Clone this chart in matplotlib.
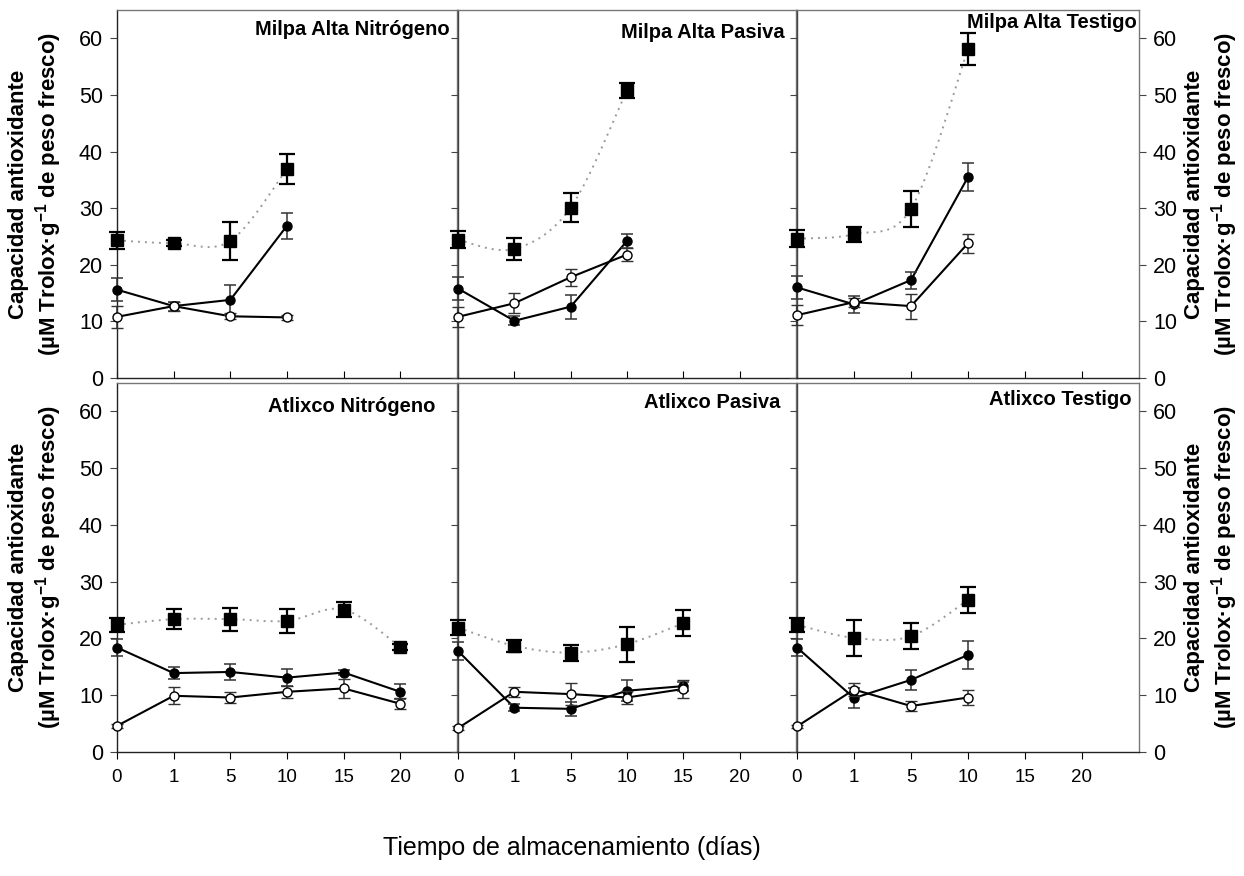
import numpy as np
import matplotlib
matplotlib.use('Agg')
import matplotlib.pyplot as plt
from matplotlib.path import Path
from matplotlib.patches import PathPatch

plt.rcParams['font.family'] = ['Liberation Sans', 'DejaVu Sans']
plt.rcParams['mathtext.fontset'] = 'custom'
plt.rcParams['mathtext.rm'] = 'Liberation Sans:bold'
plt.rcParams['mathtext.bf'] = 'Liberation Sans:bold'
plt.rcParams['mathtext.default'] = 'bf'

# ---------------- datos ----------------
dias = ['0', '1', '5', '10', '15', '20']

titulos = ['Milpa Alta Nitrógeno', 'Milpa Alta Pasiva', 'Milpa Alta Testigo',
           'Atlixco Nitrógeno', 'Atlixco Pasiva', 'Atlixco Testigo']

# cuadrados (serie punteada)
ma_n_sq = [24.3, 23.8, 24.2, 36.9]
ma_n_sq_err = [1.5, 0.5, 3.3, 2.7]
ma_p_sq = [24.4, 22.8, 30.1, 50.8]
ma_p_sq_err = [1.5, 2.0, 2.6, 1.3]
ma_t_sq = [24.6, 25.4, 29.9, 58.1]
ma_t_sq_err = [1.5, 1.3, 3.2, 2.8]
at_n_sq = [22.4, 23.4, 23.4, 23.1, 25.1, 18.5]
at_n_sq_err = [1.2, 1.8, 2.0, 2.1, 1.4, 0.5]
at_p_sq = [21.9, 18.7, 17.5, 19.0, 22.7]
at_p_sq_err = [1.3, 1.0, 1.4, 3.1, 2.3]
at_t_sq = [22.4, 20.1, 20.4, 26.8]
at_t_sq_err = [1.2, 3.2, 2.3, 2.3]

# circulos rellenos
ma_n_fc = [15.6, 12.7, 13.8, 26.9]
ma_n_fc_err = [2.0, 0.8, 2.6, 2.3]
ma_p_fc = [15.8, 10.1, 12.6, 24.2]
ma_p_fc_err = [2.0, 0.8, 2.1, 1.2]
ma_t_fc = [16.0, 13.0, 17.3, 35.5]
ma_t_fc_err = [2.0, 1.5, 1.5, 2.5]
at_n_fc = [18.4, 13.9, 14.1, 13.1, 14.0, 10.6]
at_n_fc_err = [1.5, 1.1, 1.4, 1.5, 0.5, 1.3]
at_p_fc = [17.8, 7.8, 7.6, 10.8, 11.6]
at_p_fc_err = [1.6, 0.6, 1.2, 1.8, 0.8]
at_t_fc = [18.4, 9.5, 12.7, 17.1]
at_t_fc_err = [1.5, 1.8, 1.8, 2.4]

# circulos abiertos
ma_n_oc = [10.8, 12.7, 10.9, 10.7]
ma_n_oc_err = [2.0, 0.8, 0.5, 0.5]
ma_p_oc = [10.8, 13.2, 17.8, 21.8]
ma_p_oc_err = [1.8, 1.8, 1.5, 1.2]
ma_t_oc = [11.1, 13.4, 12.7, 23.8]
ma_t_oc_err = [1.8, 0.8, 2.2, 1.7]
at_n_oc = [4.6, 9.9, 9.6, 10.6, 11.2, 8.5]
at_n_oc_err = [0.3, 1.5, 0.9, 1.0, 1.7, 1.0]
at_p_oc = [4.2, 10.6, 10.2, 9.6, 11.1]
at_p_oc_err = [0.3, 0.9, 2.0, 1.2, 1.5]
at_t_oc = [4.5, 11.0, 8.1, 9.6]
at_t_oc_err = [0.3, 1.2, 0.9, 1.4]

cuadrados = [(ma_n_sq, ma_n_sq_err), (ma_p_sq, ma_p_sq_err), (ma_t_sq, ma_t_sq_err),
             (at_n_sq, at_n_sq_err), (at_p_sq, at_p_sq_err), (at_t_sq, at_t_sq_err)]
rellenos = [(ma_n_fc, ma_n_fc_err), (ma_p_fc, ma_p_fc_err), (ma_t_fc, ma_t_fc_err),
            (at_n_fc, at_n_fc_err), (at_p_fc, at_p_fc_err), (at_t_fc, at_t_fc_err)]
abiertos = [(ma_n_oc, ma_n_oc_err), (ma_p_oc, ma_p_oc_err), (ma_t_oc, ma_t_oc_err),
            (at_n_oc, at_n_oc_err), (at_p_oc, at_p_oc_err), (at_t_oc, at_t_oc_err)]

# ---------------- disposición (pixeles de la figura) ----------------
W, H = 1244, 876
cols = [(117, 457), (458, 796), (797, 1139)]
filas = [(10, 378), (383, 752)]
pos_titulo = [(0.979, 0.946), (0.967, 0.940), (0.994, 0.965),
              (0.935, 0.935), (0.953, 0.946), (0.977, 0.954)]


def curva_suave(ax, x, y, **kw):
    """Dibuja una curva suave (Catmull-Rom como Bezier) por los puntos."""
    pts = np.column_stack([x, y]).astype(float)
    verts = [pts[0]]
    codes = [Path.MOVETO]
    n = len(pts)
    for i in range(n - 1):
        p0 = pts[i - 1] if i > 0 else pts[i]
        p1 = pts[i]
        p2 = pts[i + 1]
        p3 = pts[i + 2] if i + 2 < n else pts[i + 1]
        c1 = p1 + (p2 - p0) / 6.0
        c2 = p2 - (p3 - p1) / 6.0
        verts += [c1, c2, p2]
        codes += [Path.CURVE4] * 3
    ax.add_patch(PathPatch(Path(verts, codes), fill=False, **kw))


fig = plt.figure(figsize=(W / 100, H / 100), dpi=100)
ylabel = 'Capacidad antioxidante\n(µM Trolox·g$^{-1}$ de peso fresco)'

for k in range(6):
    r, c = divmod(k, 3)
    x0, x1 = cols[c]
    y0, y1 = filas[r]
    ax = fig.add_axes([x0 / W, 1 - y1 / H, (x1 - x0) / W, (y1 - y0) / H])
    ax.set_xlim(0, 6)
    ax.set_ylim(0, 65)

    sq, sq_e = cuadrados[k]
    fc, fc_e = rellenos[k]
    oc, oc_e = abiertos[k]
    xs = np.arange(len(sq))

    curva_suave(ax, xs, sq, edgecolor='#9a9a9a', linestyle=(0, (1, 2.6)),
                linewidth=1.4, zorder=2, clip_on=False)
    ax.plot(np.arange(len(fc)), fc, color='black', lw=1.5, zorder=3, clip_on=False)
    ax.plot(np.arange(len(oc)), oc, color='black', lw=1.5, zorder=3, clip_on=False)

    ax.errorbar(np.arange(len(fc)), fc, yerr=fc_e, fmt='o', ms=6.5,
                mfc='black', mec='black', ecolor='#333333', elinewidth=1.1,
                capsize=4, capthick=1.1, zorder=4, clip_on=False)
    ax.errorbar(np.arange(len(oc)), oc, yerr=oc_e, fmt='o', ms=6.5,
                mfc='white', mec='black', mew=1.0, ecolor='#333333',
                elinewidth=1.1, capsize=4, capthick=1.1, zorder=5, clip_on=False)
    ax.errorbar(xs, sq, yerr=sq_e, fmt='s', ms=8, mfc='black', mec='black',
                ecolor='black', elinewidth=1.6, capsize=6, capthick=1.6,
                zorder=6, clip_on=False)

    ax.text(pos_titulo[k][0], pos_titulo[k][1], titulos[k], transform=ax.transAxes,
            ha='right', va='center', fontsize=14.5, fontweight='bold')

    for s in ['top', 'right']:
        ax.spines[s].set_color('#777777')
    ax.spines['left'].set_color('#444444' if c > 0 else '#222222')
    ax.spines['bottom'].set_color('#222222')
    for s in ax.spines.values():
        s.set_linewidth(1.0)

    ax.set_xticks(range(6))
    ax.set_yticks(range(0, 61, 10))
    if r == 0:
        ax.tick_params(axis='x', direction='in', length=5, labelbottom=False)
    else:
        ax.set_xticklabels(dias, fontsize=13.5)
        ax.tick_params(axis='x', direction='out', length=5, pad=7)

    ax.tick_params(axis='y', direction='out', length=5, labelsize=15.5, pad=5,
                   color='#444444')
    if c == 0:
        ax.tick_params(axis='y', labelleft=True)
    elif c == 1:
        ax.tick_params(axis='y', labelleft=False)
    else:
        ax.tick_params(axis='y', labelleft=False, labelright=True, right=True,
                       left=True)

    # etiquetas del eje y
    yc = 1 - (y0 + y1) / 2 / H
    if c == 0:
        fig.text(36 / W, yc, ylabel, rotation=90, ha='center', va='center',
                 fontsize=16, fontweight='bold', multialignment='center',
                 linespacing=1.15)
    if c == 2:
        fig.text(1212 / W, yc, ylabel, rotation=90, ha='center', va='center',
                 fontsize=16, fontweight='bold', multialignment='center',
                 linespacing=1.15)

fig.text(572 / W, 1 - 848 / H, 'Tiempo de almacenamiento (días)',
         ha='center', va='center', fontsize=18)

fig.savefig('out.png', dpi=100)
